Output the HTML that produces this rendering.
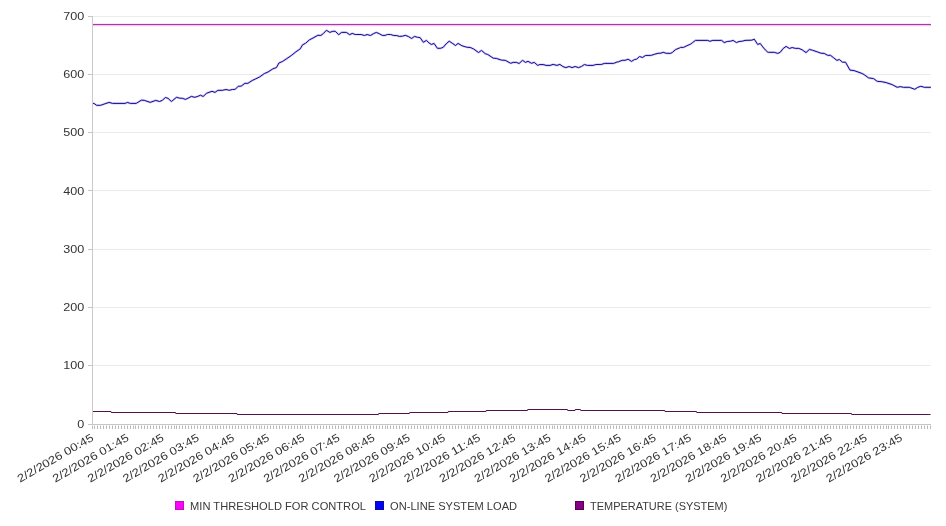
<!DOCTYPE html>
<html><head><meta charset="utf-8"><style>
html,body{margin:0;padding:0;background:#fff;}
body{width:946px;height:526px;overflow:hidden;}
svg{display:block;will-change:transform;}
text{font-family:"Liberation Sans",sans-serif;fill:#333;}
.yl{font-size:11px;}
.xl{font-size:11.2px;}
.lg{font-size:11.3px;fill:#3a3a3a;}
</style></head><body>
<svg width="946" height="526" viewBox="0 0 946 526">
<rect x="92" y="16" width="839" height="1" fill="#ebebeb"/>
<rect x="92" y="74" width="839" height="1" fill="#ebebeb"/>
<rect x="92" y="132" width="839" height="1" fill="#ebebeb"/>
<rect x="92" y="190" width="839" height="1" fill="#ebebeb"/>
<rect x="92" y="249" width="839" height="1" fill="#ebebeb"/>
<rect x="92" y="307" width="839" height="1" fill="#ebebeb"/>
<rect x="92" y="365" width="839" height="1" fill="#ebebeb"/>
<rect x="88" y="16" width="4" height="1" fill="#c4c4c4"/>
<rect x="88" y="74" width="4" height="1" fill="#c4c4c4"/>
<rect x="88" y="132" width="4" height="1" fill="#c4c4c4"/>
<rect x="88" y="190" width="4" height="1" fill="#c4c4c4"/>
<rect x="88" y="249" width="4" height="1" fill="#c4c4c4"/>
<rect x="88" y="307" width="4" height="1" fill="#c4c4c4"/>
<rect x="88" y="365" width="4" height="1" fill="#c4c4c4"/>
<rect x="88" y="424" width="4" height="1" fill="#c4c4c4"/>
<rect x="92" y="16" width="1" height="409" fill="#cacaca"/>
<rect x="88" y="424" width="843" height="1" fill="#c6c6c6"/>
<path d="M92.5 425.5v3.5M94.5 425.5v3.5M97.5 425.5v3.5M100.5 425.5v3.5M103.5 425.5v3.5M106.5 425.5v3.5M109.5 425.5v3.5M112.5 425.5v3.5M115.5 425.5v3.5M118.5 425.5v3.5M121.5 425.5v3.5M124.5 425.5v3.5M127.5 425.5v3.5M130.5 425.5v3.5M133.5 425.5v3.5M135.5 425.5v3.5M138.5 425.5v3.5M141.5 425.5v3.5M144.5 425.5v3.5M147.5 425.5v3.5M150.5 425.5v3.5M153.5 425.5v3.5M156.5 425.5v3.5M159.5 425.5v3.5M162.5 425.5v3.5M165.5 425.5v3.5M168.5 425.5v3.5M171.5 425.5v3.5M174.5 425.5v3.5M176.5 425.5v3.5M179.5 425.5v3.5M182.5 425.5v3.5M185.5 425.5v3.5M188.5 425.5v3.5M191.5 425.5v3.5M194.5 425.5v3.5M197.5 425.5v3.5M200.5 425.5v3.5M203.5 425.5v3.5M206.5 425.5v3.5M209.5 425.5v3.5M212.5 425.5v3.5M215.5 425.5v3.5M217.5 425.5v3.5M220.5 425.5v3.5M223.5 425.5v3.5M226.5 425.5v3.5M229.5 425.5v3.5M232.5 425.5v3.5M235.5 425.5v3.5M238.5 425.5v3.5M241.5 425.5v3.5M244.5 425.5v3.5M247.5 425.5v3.5M250.5 425.5v3.5M253.5 425.5v3.5M256.5 425.5v3.5M259.5 425.5v3.5M261.5 425.5v3.5M264.5 425.5v3.5M267.5 425.5v3.5M270.5 425.5v3.5M273.5 425.5v3.5M276.5 425.5v3.5M279.5 425.5v3.5M282.5 425.5v3.5M285.5 425.5v3.5M288.5 425.5v3.5M291.5 425.5v3.5M294.5 425.5v3.5M297.5 425.5v3.5M300.5 425.5v3.5M302.5 425.5v3.5M305.5 425.5v3.5M308.5 425.5v3.5M311.5 425.5v3.5M314.5 425.5v3.5M317.5 425.5v3.5M320.5 425.5v3.5M323.5 425.5v3.5M326.5 425.5v3.5M329.5 425.5v3.5M332.5 425.5v3.5M335.5 425.5v3.5M338.5 425.5v3.5M341.5 425.5v3.5M343.5 425.5v3.5M346.5 425.5v3.5M349.5 425.5v3.5M352.5 425.5v3.5M355.5 425.5v3.5M358.5 425.5v3.5M361.5 425.5v3.5M364.5 425.5v3.5M367.5 425.5v3.5M370.5 425.5v3.5M373.5 425.5v3.5M376.5 425.5v3.5M379.5 425.5v3.5M382.5 425.5v3.5M385.5 425.5v3.5M387.5 425.5v3.5M390.5 425.5v3.5M393.5 425.5v3.5M396.5 425.5v3.5M399.5 425.5v3.5M402.5 425.5v3.5M405.5 425.5v3.5M408.5 425.5v3.5M411.5 425.5v3.5M414.5 425.5v3.5M417.5 425.5v3.5M420.5 425.5v3.5M423.5 425.5v3.5M426.5 425.5v3.5M428.5 425.5v3.5M431.5 425.5v3.5M434.5 425.5v3.5M437.5 425.5v3.5M440.5 425.5v3.5M443.5 425.5v3.5M446.5 425.5v3.5M449.5 425.5v3.5M452.5 425.5v3.5M455.5 425.5v3.5M458.5 425.5v3.5M461.5 425.5v3.5M464.5 425.5v3.5M467.5 425.5v3.5M469.5 425.5v3.5M472.5 425.5v3.5M475.5 425.5v3.5M478.5 425.5v3.5M481.5 425.5v3.5M484.5 425.5v3.5M487.5 425.5v3.5M490.5 425.5v3.5M493.5 425.5v3.5M496.5 425.5v3.5M499.5 425.5v3.5M502.5 425.5v3.5M505.5 425.5v3.5M508.5 425.5v3.5M511.5 425.5v3.5M513.5 425.5v3.5M516.5 425.5v3.5M519.5 425.5v3.5M522.5 425.5v3.5M525.5 425.5v3.5M528.5 425.5v3.5M531.5 425.5v3.5M534.5 425.5v3.5M537.5 425.5v3.5M540.5 425.5v3.5M543.5 425.5v3.5M546.5 425.5v3.5M549.5 425.5v3.5M552.5 425.5v3.5M554.5 425.5v3.5M557.5 425.5v3.5M560.5 425.5v3.5M563.5 425.5v3.5M566.5 425.5v3.5M569.5 425.5v3.5M572.5 425.5v3.5M575.5 425.5v3.5M578.5 425.5v3.5M581.5 425.5v3.5M584.5 425.5v3.5M587.5 425.5v3.5M590.5 425.5v3.5M593.5 425.5v3.5M595.5 425.5v3.5M598.5 425.5v3.5M601.5 425.5v3.5M604.5 425.5v3.5M607.5 425.5v3.5M610.5 425.5v3.5M613.5 425.5v3.5M616.5 425.5v3.5M619.5 425.5v3.5M622.5 425.5v3.5M625.5 425.5v3.5M628.5 425.5v3.5M631.5 425.5v3.5M634.5 425.5v3.5M636.5 425.5v3.5M639.5 425.5v3.5M642.5 425.5v3.5M645.5 425.5v3.5M648.5 425.5v3.5M651.5 425.5v3.5M654.5 425.5v3.5M657.5 425.5v3.5M660.5 425.5v3.5M663.5 425.5v3.5M666.5 425.5v3.5M669.5 425.5v3.5M672.5 425.5v3.5M675.5 425.5v3.5M678.5 425.5v3.5M680.5 425.5v3.5M683.5 425.5v3.5M686.5 425.5v3.5M689.5 425.5v3.5M692.5 425.5v3.5M695.5 425.5v3.5M698.5 425.5v3.5M701.5 425.5v3.5M704.5 425.5v3.5M707.5 425.5v3.5M710.5 425.5v3.5M713.5 425.5v3.5M716.5 425.5v3.5M719.5 425.5v3.5M721.5 425.5v3.5M724.5 425.5v3.5M727.5 425.5v3.5M730.5 425.5v3.5M733.5 425.5v3.5M736.5 425.5v3.5M739.5 425.5v3.5M742.5 425.5v3.5M745.5 425.5v3.5M748.5 425.5v3.5M751.5 425.5v3.5M754.5 425.5v3.5M757.5 425.5v3.5M760.5 425.5v3.5M762.5 425.5v3.5M765.5 425.5v3.5M768.5 425.5v3.5M771.5 425.5v3.5M774.5 425.5v3.5M777.5 425.5v3.5M780.5 425.5v3.5M783.5 425.5v3.5M786.5 425.5v3.5M789.5 425.5v3.5M792.5 425.5v3.5M795.5 425.5v3.5M798.5 425.5v3.5M801.5 425.5v3.5M804.5 425.5v3.5M806.5 425.5v3.5M809.5 425.5v3.5M812.5 425.5v3.5M815.5 425.5v3.5M818.5 425.5v3.5M821.5 425.5v3.5M824.5 425.5v3.5M827.5 425.5v3.5M830.5 425.5v3.5M833.5 425.5v3.5M836.5 425.5v3.5M839.5 425.5v3.5M842.5 425.5v3.5M845.5 425.5v3.5M847.5 425.5v3.5M850.5 425.5v3.5M853.5 425.5v3.5M856.5 425.5v3.5M859.5 425.5v3.5M862.5 425.5v3.5M865.5 425.5v3.5M868.5 425.5v3.5M871.5 425.5v3.5M874.5 425.5v3.5M877.5 425.5v3.5M880.5 425.5v3.5M883.5 425.5v3.5M886.5 425.5v3.5M888.5 425.5v3.5M891.5 425.5v3.5M894.5 425.5v3.5M897.5 425.5v3.5M900.5 425.5v3.5M903.5 425.5v3.5M906.5 425.5v3.5M909.5 425.5v3.5M912.5 425.5v3.5M915.5 425.5v3.5M918.5 425.5v3.5M921.5 425.5v3.5M924.5 425.5v3.5M927.5 425.5v3.5M930.5 425.5v3.5" stroke="#bcbcbc" stroke-width="1" fill="none"/>
<text x="84.2" y="20" text-anchor="end" class="yl" textLength="21.0" lengthAdjust="spacingAndGlyphs">700</text>
<text x="84.2" y="78" text-anchor="end" class="yl" textLength="21.0" lengthAdjust="spacingAndGlyphs">600</text>
<text x="84.2" y="136" text-anchor="end" class="yl" textLength="21.0" lengthAdjust="spacingAndGlyphs">500</text>
<text x="84.2" y="195" text-anchor="end" class="yl" textLength="21.0" lengthAdjust="spacingAndGlyphs">400</text>
<text x="84.2" y="253" text-anchor="end" class="yl" textLength="21.0" lengthAdjust="spacingAndGlyphs">300</text>
<text x="84.2" y="311" text-anchor="end" class="yl" textLength="21.0" lengthAdjust="spacingAndGlyphs">200</text>
<text x="84.2" y="369" text-anchor="end" class="yl" textLength="21.0" lengthAdjust="spacingAndGlyphs">100</text>
<text x="84.2" y="428" text-anchor="end" class="yl" textLength="7.0" lengthAdjust="spacingAndGlyphs">0</text>
<rect x="93" y="23" width="838" height="1" fill="#f8e6f8"/>
<rect x="93" y="24" width="838" height="1" fill="#a43ca8"/>
<rect x="93" y="25" width="838" height="1" fill="#f4c4f4"/>
<rect x="93" y="26" width="838" height="1" fill="#fcf0fc"/>
<path d="M93 411.5L110.6 411.5L111.6 412.5L175.1 412.5L176.1 413.5L236.6 413.5L237.6 414.5L378.1 414.5L379.1 413.5L409.1 413.5L410.1 412.5L447.6 412.5L448.6 411.5L485.6 411.5L486.6 410.5L527.1 410.5L528.1 409.5L567.1 409.5L568.1 410.5L574.6 410.5L575.6 409.5L580.1 409.5L581.1 410.5L664.4 410.5L665.4 411.5L696.1 411.5L697.1 412.5L781.4 412.5L782.4 413.5L851.1 413.5L852.1 414.5L930.5 414.5" stroke="#54104e" stroke-width="1.05" fill="none"/>
<polyline points="93,103.3 94.3,103.6 96.6,105.3 100.7,105.3 104.9,103.8 109.1,102.4 112.5,103.4 125.2,103.4 127.3,102.4 130.3,103.4 136.2,103.4 141.3,100.2 144.2,100.3 150.2,102.4 155.7,100.4 159.5,101.5 162.4,100.3 165.4,97.5 168,98.3 171.4,101.5 176.5,97.3 179.5,98.1 182.4,98.3 185.4,99.4 187.9,98.3 191.3,96.4 194.7,97.3 197.2,96.6 200.6,95.2 203.1,96.5 206.5,93.3 209,92.4 212,91.3 215,92.4 217.9,90.3 222.6,90.3 226,89.5 229.3,90.3 232.3,89.5 235.3,89.3 238.2,86.3 241.2,86.1 244.9,83.3 247.9,83.3 252.2,80.5 255.8,78.8 259.5,77 264.3,73.6 268,72 272.8,68.9 276.5,67.5 278.9,63 282.6,61.4 286.2,59 291.1,55.7 295.9,51.8 300.2,48.9 302.6,44.8 305.7,43.2 309.3,39.9 313,38 317.8,35.3 320.9,35.4 323.5,33.4 326.4,30.3 329.8,32.4 332.8,31.3 335.3,31.3 338.7,34.7 341.6,32.4 346.3,32.4 349.7,34.7 352.2,33.4 355.2,34.5 361.1,34.5 364.5,35.5 367,34.5 370.4,35.5 373.4,33.7 376.3,32.4 379.3,33.7 382.2,35.4 385.2,35.4 387.3,34.5 390.7,34.5 393.2,35.4 396.8,35.6 399.3,36.4 402.7,36.2 405.2,35.3 408.2,36.4 411.6,38.5 414.5,36.4 417.5,37.3 420,37.5 423.4,42.3 426.4,40.4 428.9,42.8 431.4,44.5 434,43.4 437.4,48.3 440.7,48.3 443.3,47.2 446.2,43.8 449.2,41.2 452.2,43.2 455.5,45.5 458.1,43.4 461.9,45.7 465.3,46.8 467.8,47.4 470.1,47.4 473.5,48.9 478.5,52.5 481.5,50.4 485.3,53.7 487.8,54.5 493.3,58.2 496.3,58.4 501.4,60.1 505.2,60.3 510.7,63.3 513.2,62.4 516.6,62.4 519.1,63.5 522.5,60.3 525.5,62.4 528,61.3 531.4,63.3 534.3,62.4 537.7,65.4 539.8,64.5 544,64.7 545.9,65.4 550.1,65.4 553.1,64.4 556.9,65.4 559.9,64.4 562.8,66.5 565.8,67.6 569.2,66.5 572.1,67.6 575.1,66.5 578.5,67.6 581.4,66.5 584.4,64.5 587.4,65.4 593.3,65.4 595.8,64.5 601.7,64.4 604.3,63.4 613.6,63.4 617,62 618.4,61.8 622.2,60.3 625.1,60.3 628.1,59.2 631.5,61.4 634.5,59.5 636.6,59.2 639.5,56.5 642.5,57.5 645.4,55.5 651.4,55.3 654.7,54.2 658.1,53.3 661.1,53.1 663.2,52.3 666.2,53.3 670.8,53.3 672.5,52.3 675.5,49.6 679.3,48.1 680.5,47.4 683.5,47.4 686.9,45.7 690.3,44.3 692.5,42.6 695.5,40.4 707.8,40.4 709.9,41.3 712.8,40.4 721.7,40.4 724.2,42.6 727.2,41.5 730.6,41.2 733.1,40.4 736.5,42.6 739,41.5 742.4,41.2 745,40.4 751.7,40.2 754.3,39.2 757.7,44.5 760.2,43.4 762.7,46.8 765.3,49.9 767.8,52.2 768.4,52.3 774.3,52.3 777.7,53.4 780.2,52.3 783.2,48.5 786.1,46.4 789.5,48.5 792.1,47.5 795.4,48.4 798.8,48.4 802.2,49.8 806,52.6 809.4,49.4 812.4,50.2 817.4,51.9 820.8,53.2 824.2,53.4 827.6,55.3 830.5,55.3 833.5,57.7 836.9,60.4 839.4,59.5 842.4,62.2 845.5,62.2 850,70.1 854.1,70.6 861.1,73.1 864.1,74.6 868.6,77.9 873.6,78.6 877.2,81.3 881.2,81.6 886.2,82.6 892.2,84.6 897.2,87.3 900.3,86.6 903.3,87.3 909.3,87.3 914.8,89.3 917.8,87.3 920.8,86.3 924.4,87.3 930.9,87.3" stroke="#ccc8fa" stroke-width="2.2" fill="none" stroke-linejoin="round"/>
<polyline points="93,103.3 94.3,103.6 96.6,105.3 100.7,105.3 104.9,103.8 109.1,102.4 112.5,103.4 125.2,103.4 127.3,102.4 130.3,103.4 136.2,103.4 141.3,100.2 144.2,100.3 150.2,102.4 155.7,100.4 159.5,101.5 162.4,100.3 165.4,97.5 168,98.3 171.4,101.5 176.5,97.3 179.5,98.1 182.4,98.3 185.4,99.4 187.9,98.3 191.3,96.4 194.7,97.3 197.2,96.6 200.6,95.2 203.1,96.5 206.5,93.3 209,92.4 212,91.3 215,92.4 217.9,90.3 222.6,90.3 226,89.5 229.3,90.3 232.3,89.5 235.3,89.3 238.2,86.3 241.2,86.1 244.9,83.3 247.9,83.3 252.2,80.5 255.8,78.8 259.5,77 264.3,73.6 268,72 272.8,68.9 276.5,67.5 278.9,63 282.6,61.4 286.2,59 291.1,55.7 295.9,51.8 300.2,48.9 302.6,44.8 305.7,43.2 309.3,39.9 313,38 317.8,35.3 320.9,35.4 323.5,33.4 326.4,30.3 329.8,32.4 332.8,31.3 335.3,31.3 338.7,34.7 341.6,32.4 346.3,32.4 349.7,34.7 352.2,33.4 355.2,34.5 361.1,34.5 364.5,35.5 367,34.5 370.4,35.5 373.4,33.7 376.3,32.4 379.3,33.7 382.2,35.4 385.2,35.4 387.3,34.5 390.7,34.5 393.2,35.4 396.8,35.6 399.3,36.4 402.7,36.2 405.2,35.3 408.2,36.4 411.6,38.5 414.5,36.4 417.5,37.3 420,37.5 423.4,42.3 426.4,40.4 428.9,42.8 431.4,44.5 434,43.4 437.4,48.3 440.7,48.3 443.3,47.2 446.2,43.8 449.2,41.2 452.2,43.2 455.5,45.5 458.1,43.4 461.9,45.7 465.3,46.8 467.8,47.4 470.1,47.4 473.5,48.9 478.5,52.5 481.5,50.4 485.3,53.7 487.8,54.5 493.3,58.2 496.3,58.4 501.4,60.1 505.2,60.3 510.7,63.3 513.2,62.4 516.6,62.4 519.1,63.5 522.5,60.3 525.5,62.4 528,61.3 531.4,63.3 534.3,62.4 537.7,65.4 539.8,64.5 544,64.7 545.9,65.4 550.1,65.4 553.1,64.4 556.9,65.4 559.9,64.4 562.8,66.5 565.8,67.6 569.2,66.5 572.1,67.6 575.1,66.5 578.5,67.6 581.4,66.5 584.4,64.5 587.4,65.4 593.3,65.4 595.8,64.5 601.7,64.4 604.3,63.4 613.6,63.4 617,62 618.4,61.8 622.2,60.3 625.1,60.3 628.1,59.2 631.5,61.4 634.5,59.5 636.6,59.2 639.5,56.5 642.5,57.5 645.4,55.5 651.4,55.3 654.7,54.2 658.1,53.3 661.1,53.1 663.2,52.3 666.2,53.3 670.8,53.3 672.5,52.3 675.5,49.6 679.3,48.1 680.5,47.4 683.5,47.4 686.9,45.7 690.3,44.3 692.5,42.6 695.5,40.4 707.8,40.4 709.9,41.3 712.8,40.4 721.7,40.4 724.2,42.6 727.2,41.5 730.6,41.2 733.1,40.4 736.5,42.6 739,41.5 742.4,41.2 745,40.4 751.7,40.2 754.3,39.2 757.7,44.5 760.2,43.4 762.7,46.8 765.3,49.9 767.8,52.2 768.4,52.3 774.3,52.3 777.7,53.4 780.2,52.3 783.2,48.5 786.1,46.4 789.5,48.5 792.1,47.5 795.4,48.4 798.8,48.4 802.2,49.8 806,52.6 809.4,49.4 812.4,50.2 817.4,51.9 820.8,53.2 824.2,53.4 827.6,55.3 830.5,55.3 833.5,57.7 836.9,60.4 839.4,59.5 842.4,62.2 845.5,62.2 850,70.1 854.1,70.6 861.1,73.1 864.1,74.6 868.6,77.9 873.6,78.6 877.2,81.3 881.2,81.6 886.2,82.6 892.2,84.6 897.2,87.3 900.3,86.6 903.3,87.3 909.3,87.3 914.8,89.3 917.8,87.3 920.8,86.3 924.4,87.3 930.9,87.3" stroke="#180c8c" stroke-width="1.0" fill="none" stroke-linejoin="round"/>
<text transform="translate(94.5,439.8) rotate(-30)" text-anchor="end" class="xl" textLength="86.0" lengthAdjust="spacingAndGlyphs">2/2/2026 00:45</text>
<text transform="translate(129.66,439.8) rotate(-30)" text-anchor="end" class="xl" textLength="86.0" lengthAdjust="spacingAndGlyphs">2/2/2026 01:45</text>
<text transform="translate(164.82,439.8) rotate(-30)" text-anchor="end" class="xl" textLength="86.0" lengthAdjust="spacingAndGlyphs">2/2/2026 02:45</text>
<text transform="translate(199.98,439.8) rotate(-30)" text-anchor="end" class="xl" textLength="86.0" lengthAdjust="spacingAndGlyphs">2/2/2026 03:45</text>
<text transform="translate(235.14,439.8) rotate(-30)" text-anchor="end" class="xl" textLength="86.0" lengthAdjust="spacingAndGlyphs">2/2/2026 04:45</text>
<text transform="translate(270.3,439.8) rotate(-30)" text-anchor="end" class="xl" textLength="86.0" lengthAdjust="spacingAndGlyphs">2/2/2026 05:45</text>
<text transform="translate(305.47,439.8) rotate(-30)" text-anchor="end" class="xl" textLength="86.0" lengthAdjust="spacingAndGlyphs">2/2/2026 06:45</text>
<text transform="translate(340.63,439.8) rotate(-30)" text-anchor="end" class="xl" textLength="86.0" lengthAdjust="spacingAndGlyphs">2/2/2026 07:45</text>
<text transform="translate(375.79,439.8) rotate(-30)" text-anchor="end" class="xl" textLength="86.0" lengthAdjust="spacingAndGlyphs">2/2/2026 08:45</text>
<text transform="translate(410.95,439.8) rotate(-30)" text-anchor="end" class="xl" textLength="86.0" lengthAdjust="spacingAndGlyphs">2/2/2026 09:45</text>
<text transform="translate(446.11,439.8) rotate(-30)" text-anchor="end" class="xl" textLength="86.0" lengthAdjust="spacingAndGlyphs">2/2/2026 10:45</text>
<text transform="translate(481.27,439.8) rotate(-30)" text-anchor="end" class="xl" textLength="86.0" lengthAdjust="spacingAndGlyphs">2/2/2026 11:45</text>
<text transform="translate(516.43,439.8) rotate(-30)" text-anchor="end" class="xl" textLength="86.0" lengthAdjust="spacingAndGlyphs">2/2/2026 12:45</text>
<text transform="translate(551.59,439.8) rotate(-30)" text-anchor="end" class="xl" textLength="86.0" lengthAdjust="spacingAndGlyphs">2/2/2026 13:45</text>
<text transform="translate(586.75,439.8) rotate(-30)" text-anchor="end" class="xl" textLength="86.0" lengthAdjust="spacingAndGlyphs">2/2/2026 14:45</text>
<text transform="translate(621.91,439.8) rotate(-30)" text-anchor="end" class="xl" textLength="86.0" lengthAdjust="spacingAndGlyphs">2/2/2026 15:45</text>
<text transform="translate(657.07,439.8) rotate(-30)" text-anchor="end" class="xl" textLength="86.0" lengthAdjust="spacingAndGlyphs">2/2/2026 16:45</text>
<text transform="translate(692.23,439.8) rotate(-30)" text-anchor="end" class="xl" textLength="86.0" lengthAdjust="spacingAndGlyphs">2/2/2026 17:45</text>
<text transform="translate(727.4,439.8) rotate(-30)" text-anchor="end" class="xl" textLength="86.0" lengthAdjust="spacingAndGlyphs">2/2/2026 18:45</text>
<text transform="translate(762.56,439.8) rotate(-30)" text-anchor="end" class="xl" textLength="86.0" lengthAdjust="spacingAndGlyphs">2/2/2026 19:45</text>
<text transform="translate(797.72,439.8) rotate(-30)" text-anchor="end" class="xl" textLength="86.0" lengthAdjust="spacingAndGlyphs">2/2/2026 20:45</text>
<text transform="translate(832.88,439.8) rotate(-30)" text-anchor="end" class="xl" textLength="86.0" lengthAdjust="spacingAndGlyphs">2/2/2026 21:45</text>
<text transform="translate(868.04,439.8) rotate(-30)" text-anchor="end" class="xl" textLength="86.0" lengthAdjust="spacingAndGlyphs">2/2/2026 22:45</text>
<text transform="translate(903.2,439.8) rotate(-30)" text-anchor="end" class="xl" textLength="86.0" lengthAdjust="spacingAndGlyphs">2/2/2026 23:45</text>
<rect x="175" y="501" width="9" height="9" fill="#c010c0"/>
<rect x="176" y="502" width="7" height="7" fill="#fa04fa"/>
<text x="190.1" y="509.5" class="lg" textLength="175.9" lengthAdjust="spacingAndGlyphs">MIN THRESHOLD FOR CONTROL</text>
<rect x="375" y="501" width="9" height="9" fill="#0a0aa8"/>
<rect x="376" y="502" width="7" height="7" fill="#0404f4"/>
<text x="390.1" y="509.5" class="lg" textLength="127.0" lengthAdjust="spacingAndGlyphs">ON-LINE SYSTEM LOAD</text>
<rect x="575" y="501" width="9" height="9" fill="#580052"/>
<rect x="576" y="502" width="7" height="7" fill="#860086"/>
<text x="590.1" y="509.5" class="lg" textLength="137.2" lengthAdjust="spacingAndGlyphs">TEMPERATURE (SYSTEM)</text>
</svg>
</body></html>
